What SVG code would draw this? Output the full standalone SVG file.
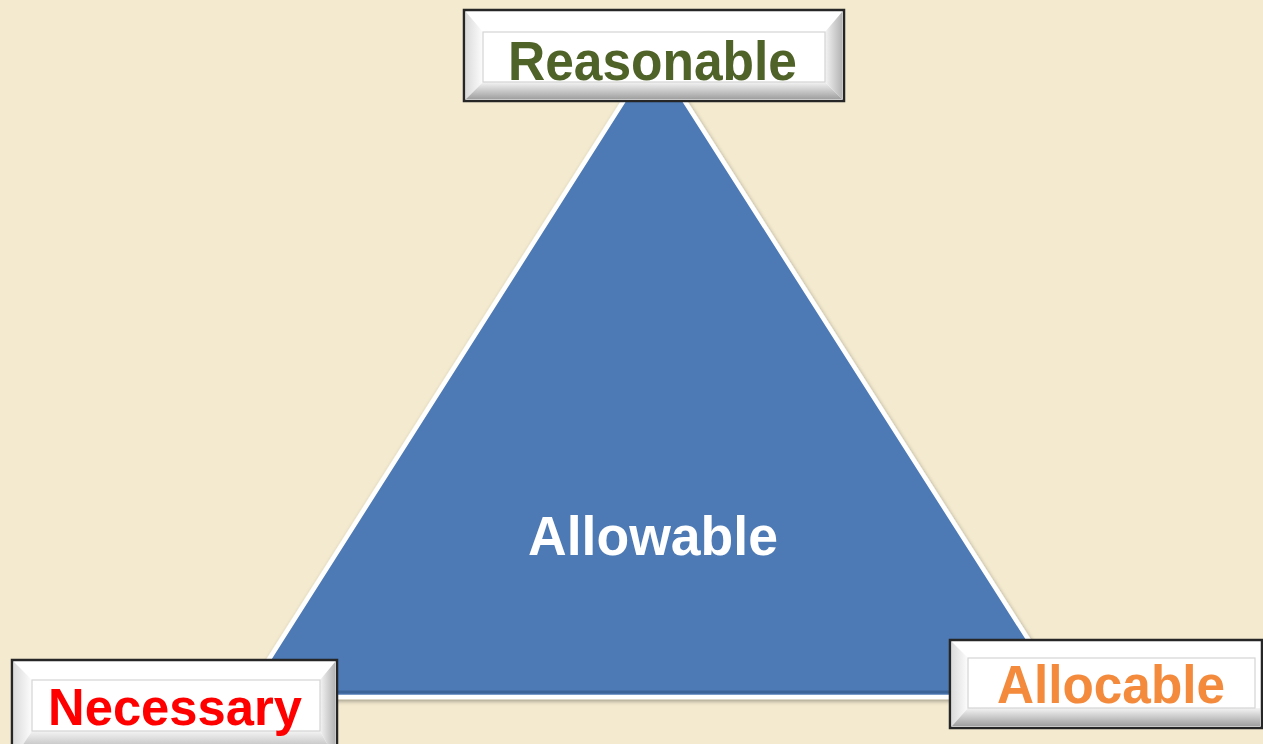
<svg xmlns="http://www.w3.org/2000/svg" width="1263" height="744" viewBox="0 0 1263 744">
  <style>
    .label { font-family: "Liberation Sans", Arial, sans-serif; font-weight: bold; text-anchor: start; }
    .frame { fill: #ffffff; stroke: #262626; stroke-width: 2.5; }
    .face { fill: #ffffff; stroke: #d4d4d4; stroke-width: 1.2; }
  </style>
  <defs>
    <linearGradient id="bevelBottom" x1="0" y1="0" x2="0" y2="1">
      <stop offset="0" stop-color="#f4f4f4"/>
      <stop offset="1" stop-color="#a0a0a0"/>
    </linearGradient>
    <linearGradient id="bevelRight" x1="0" y1="0" x2="1" y2="0">
      <stop offset="0" stop-color="#f4f4f4"/>
      <stop offset="1" stop-color="#b4b4b4"/>
    </linearGradient>
    <linearGradient id="bevelLeft" x1="0" y1="0" x2="1" y2="0">
      <stop offset="0" stop-color="#dcdcdc"/>
      <stop offset="1" stop-color="#fdfdfd"/>
    </linearGradient>
    <filter id="soft" x="-10%" y="-10%" width="120%" height="120%">
      <feDropShadow dx="1" dy="2" stdDeviation="2" flood-color="#000" flood-opacity="0.35"/>
    </filter>
  </defs>

  <rect width="1263" height="744" fill="#f3eacf"/>

  <!-- central triangle -->
  <g id="triangle">
    <polygon points="654,53 245,697 1065,697" fill="#4e7ab5" stroke="#ffffff" stroke-width="4.5" stroke-linejoin="miter" filter="url(#soft)"/>
    <line x1="262" y1="692" x2="1048" y2="692" stroke="#2f4f7c" stroke-width="3" opacity="0.5"/>
    <text class="label" x="528" y="555" font-size="55" fill="#ffffff" textLength="250" lengthAdjust="spacingAndGlyphs">Allowable</text>
  </g>

  <!-- top label: Reasonable -->
  <g id="reasonable">
    <rect class="frame" x="464" y="10" width="380" height="91"/>
    <polygon points="466,12 483,32 483,82 466,99" fill="url(#bevelLeft)"/>
    <polygon points="842,12 825,32 825,82 842,99" fill="url(#bevelRight)"/>
    <polygon points="466,99 483,82 825,82 842,99" fill="url(#bevelBottom)"/>
    <rect class="face" x="483" y="32" width="342" height="50"/>
    <text class="label" x="508" y="80" font-size="55" fill="#4f6228" textLength="289" lengthAdjust="spacingAndGlyphs">Reasonable</text>
  </g>

  <!-- bottom-left label: Necessary -->
  <g id="necessary">
    <rect class="frame" x="12" y="660" width="325" height="100"/>
    <polygon points="14,662 32,680 32,731 14,758" fill="url(#bevelLeft)"/>
    <polygon points="335,662 320,680 320,731 335,758" fill="url(#bevelRight)"/>
    <polygon points="14,758 32,731 320,731 335,758" fill="url(#bevelBottom)"/>
    <rect class="face" x="32" y="680" width="288" height="51"/>
    <text class="label" x="48" y="725" font-size="52" fill="#ff0000" textLength="254" lengthAdjust="spacingAndGlyphs">Necessary</text>
  </g>

  <!-- bottom-right label: Allocable -->
  <g id="allocable">
    <rect class="frame" x="950" y="640" width="312" height="88"/>
    <polygon points="952,642 968,658 968,708 952,726" fill="url(#bevelLeft)"/>
    <polygon points="952,726 968,708 1260,708 1260,726" fill="url(#bevelBottom)"/>
    <rect class="face" x="968" y="658" width="287" height="50"/>
    <text class="label" x="997" y="703" font-size="53" fill="#f38a3c" textLength="228" lengthAdjust="spacingAndGlyphs">Allocable</text>
  </g>
</svg>
